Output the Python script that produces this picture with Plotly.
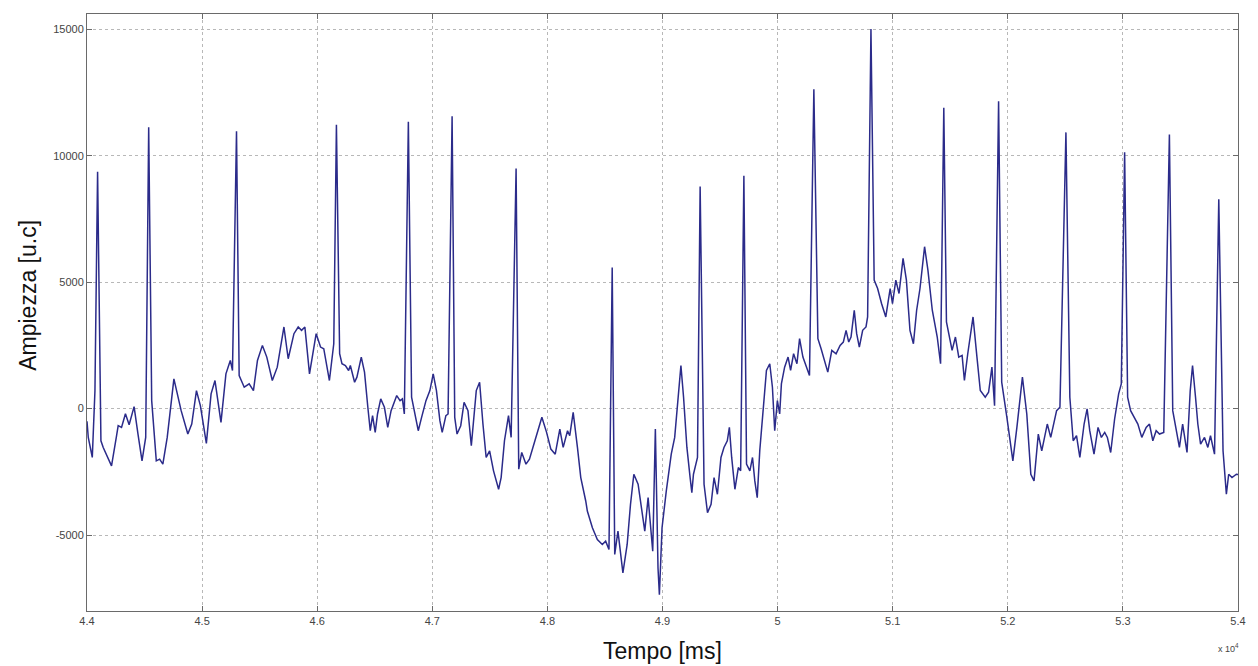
import plotly.graph_objects as go

# Time [ms] and amplitude [u.c]
tempo_ms = [
    44000, 44011, 44046, 44069, 44092, 44112, 44121, 44141, 44213, 44257,
    44271, 44300, 44334, 44366, 44409, 44443, 44478, 44510, 44536, 44562,
    44602, 44631, 44659, 44697, 44755, 44818, 44876, 44910, 44951, 44985,
    45037, 45078, 45112, 45164, 45207, 45245, 45264, 45299, 45322, 45366,
    45409, 45446, 45481, 45524, 45562, 45610, 45653, 45711, 45748, 45798,
    45835, 45864, 45893, 45933, 45991, 46029, 46057, 46106, 46144, 46167,
    46195, 46215, 46245, 46273, 46288, 46325, 46345, 46383, 46411, 46440,
    46461, 46481, 46504, 46524, 46552, 46584, 46613, 46642, 46691, 46720,
    46740, 46757, 46792, 46820, 46850, 46878, 46907, 46945, 46979, 47008,
    47036, 47066, 47086, 47118, 47137, 47172, 47195, 47215, 47247, 47276,
    47310, 47339, 47382, 47411, 47440, 47468, 47498, 47532, 47576, 47598,
    47627, 47662, 47685, 47728, 47751, 47777, 47814, 47844, 47887, 47915,
    47952, 47993, 48030, 48068, 48108, 48137, 48175, 48194, 48224, 48261,
    48290, 48333, 48347, 48391, 48434, 48477, 48506, 48535, 48563, 48585,
    48613, 48656, 48693, 48722, 48751, 48788, 48823, 48846, 48875, 48895,
    48915, 48938, 48961, 48973, 48996, 49033, 49076, 49106, 49140, 49160,
    49183, 49212, 49240, 49255, 49269, 49304, 49327, 49361, 49391, 49422,
    49448, 49477, 49508, 49534, 49563, 49581, 49601, 49629, 49659, 49679,
    49707, 49730, 49759, 49782, 49802, 49823, 49845, 49880, 49903, 49932,
    49955, 49975, 49998, 50018, 50033, 50061, 50091, 50113, 50139, 50168,
    50191, 50220, 50249, 50277, 50315, 50350, 50378, 50407, 50436, 50471,
    50508, 50543, 50571, 50595, 50618, 50638, 50666, 50687, 50710, 50739,
    50768, 50782, 50811, 50839, 50869, 50903, 50940, 50978, 50998, 51027,
    51055, 51090, 51119, 51150, 51180, 51208, 51237, 51277, 51306, 51344,
    51387, 51416, 51444, 51467, 51516, 51545, 51574, 51603, 51623, 51652,
    51698, 51732, 51761, 51804, 51833, 51862, 51885, 51920, 51947, 51992,
    52021, 52044, 52079, 52127, 52165, 52200, 52228, 52265, 52295, 52343,
    52373, 52424, 52453, 52505, 52539, 52568, 52597, 52626, 52663, 52689,
    52712, 52749, 52784, 52813, 52842, 52865, 52894, 52928, 52963, 52986,
    53015, 53041, 53067, 53095, 53130, 53164, 53202, 53231, 53260, 53289,
    53318, 53355, 53404, 53433, 53462, 53491, 53519, 53557, 53585, 53605,
    53631, 53651, 53675, 53709, 53738, 53761, 53796, 53833, 53870, 53891,
    53899, 53919, 53948, 53986, 54000,
]

ampiezza = [
    -500, -1140, -1930, 700, 9365, 700, -1270, -1535, -2262, -1071,
    -675, -741, -200, -635, 80, -1005, -2063, -1138, 11122, 317,
    -2063, -1997, -2195, -1138, 1177, -79, -1005, -609, 714, 119,
    -1376, 582, 1111, -542, 1376, 1905, 1508, 10964, 1309, 846,
    979, 714, 1905, 2500, 2037, 1111, 1640, 3227, 1971, 2963,
    3227, 3095, 3227, 1376, 2963, 2434, 2368, 1111, 2566, 11220,
    2170, 1773, 1706, 1508, 1706, 1045, 1243, 2037, 1442, 53,
    -873, -278, -939, -212, 384, 53, -741, -79, 516, 317,
    384, -212, 11341, 450, -212, -873, -344, 317, 714, 1376,
    714, -476, -939, -278, -212, 11560, -344, -1005, -675, 251,
    -79, -1468, 714, 1045, -609, -1930, -1667, -2460, -3188, -2725,
    -1270, -278, -1138, 9488, -2394, -1733, -2195, -1997, -1336, -939,
    -344, -939, -1600, -1799, -807, -1534, -873, -1071, -145, -1534,
    -2725, -3651, -4047, -4709, -5172, -5370, -5238, -5568, 5583, -5766,
    -4841, -6495, -5370, -3783, -2593, -2989, -4047, -4841, -3518, -4709,
    -5635, -807, -6297, -7354, -4709, -3254, -1799, -1138, 714, 1706,
    450, -1534, -2725, -3320, -2593, -1930, 8782, -2989, -4113, -3783,
    -2725, -3386, -1930, -1534, -1270, -741, -1930, -3188, -2328, -2460,
    9203, -2195, -2460, -1930, -2857, -3518, -1667, 450, 1508, 1773,
    846, -873, 317, -212, 979, 1640, 2037, 1508, 2170, 1773,
    2765, 2037, 1706, 1309, 12622, 2765, 2368, 1905, 1442, 2301,
    2170, 2500, 2632, 3095, 2632, 2831, 3889, 2963, 2434, 3095,
    3227, 3624, 15011, 5079, 4749, 4154, 3624, 4749, 4154, 5079,
    4551, 5940, 5079, 3095, 2567, 3889, 4749, 6400, 5476, 3889,
    2831, 1773, 11896, 3425, 2301, 2831, 2037, 2103, 1111, 2170,
    3624, 2037, 714, 450, 648, 1640, 119, 12150, 1045, -344,
    -1270, -2063, -741, 1243, -212, -2593, -2857, -1005, -1667, -609,
    -1138, -79, 53, 10920, 450, -1270, -1071, -1930, -609, -13,
    -873, -1799, -741, -1138, -939, -1138, -1733, -410, 582, 979,
    10130, 450, -79, -344, -609, -1138, -741, -609, -1270, -873,
    -1005, -939, 10836, -79, -873, -1534, -609, -1733, 714, 1706,
    450, -609, -1402, -1138, -1534, -1071, -1799, 8277, -1667, -2857,
    -3386, -2593, -2725, -2593, -2600,
]

x_tick_vals = [44000, 45000, 46000, 47000, 48000, 49000, 50000, 51000, 52000, 53000, 54000]
x_tick_text = ["4.4", "4.5", "4.6", "4.7", "4.8", "4.9", "5", "5.1", "5.2", "5.3", "5.4"]
y_tick_vals = [-5000, 0, 5000, 10000, 15000]
y_tick_text = ["-5000", "0", "5000", "10000", "15000"]

fig = go.Figure()
fig.add_trace(go.Scatter(
    x=tempo_ms, y=ampiezza, mode="lines",
    line=dict(color="#2b2b8a", width=1.5),
    showlegend=False, hoverinfo="skip",
))

axis_common = dict(
    showline=True, linecolor="#6a6a6a", linewidth=1, mirror="ticks",
    ticks="inside", ticklen=5, tickcolor="#6a6a6a", tickwidth=1,
    showgrid=True, gridcolor="#b8b8b8", griddash="dot", gridwidth=1,
    zeroline=False,
    tickfont=dict(family="Liberation Sans, Arial, sans-serif", size=11, color="#444444"),
)

fig.update_xaxes(range=[44000, 54000], tickvals=x_tick_vals, ticktext=x_tick_text, **axis_common)
fig.update_yaxes(range=[-8000, 15600], tickvals=y_tick_vals, ticktext=y_tick_text, **axis_common)

fig.update_layout(
    width=1258, height=666,
    margin=dict(l=87, r=14, t=14, b=55),
    paper_bgcolor="white", plot_bgcolor="white",
    font=dict(family="Liberation Sans, Arial, sans-serif"),
    annotations=[
        dict(text="Tempo [ms]", xref="paper", yref="paper", x=0.5, y=0,
             yshift=-40, xanchor="center", yanchor="middle", showarrow=False,
             font=dict(size=23, color="#111111")),
        dict(text="Ampiezza [u.c]", xref="paper", yref="paper", x=0, y=0.528,
             xshift=-59, xanchor="center", yanchor="middle", textangle=-90,
             showarrow=False, font=dict(size=23, color="#111111")),
        dict(text="x 10<sup>4</sup>", xref="paper", yref="paper", x=1, y=0,
             xshift=-10, yshift=-37, xanchor="center", yanchor="middle",
             showarrow=False, font=dict(size=9, color="#444444")),
    ],
)

fig.write_html("out.html")
